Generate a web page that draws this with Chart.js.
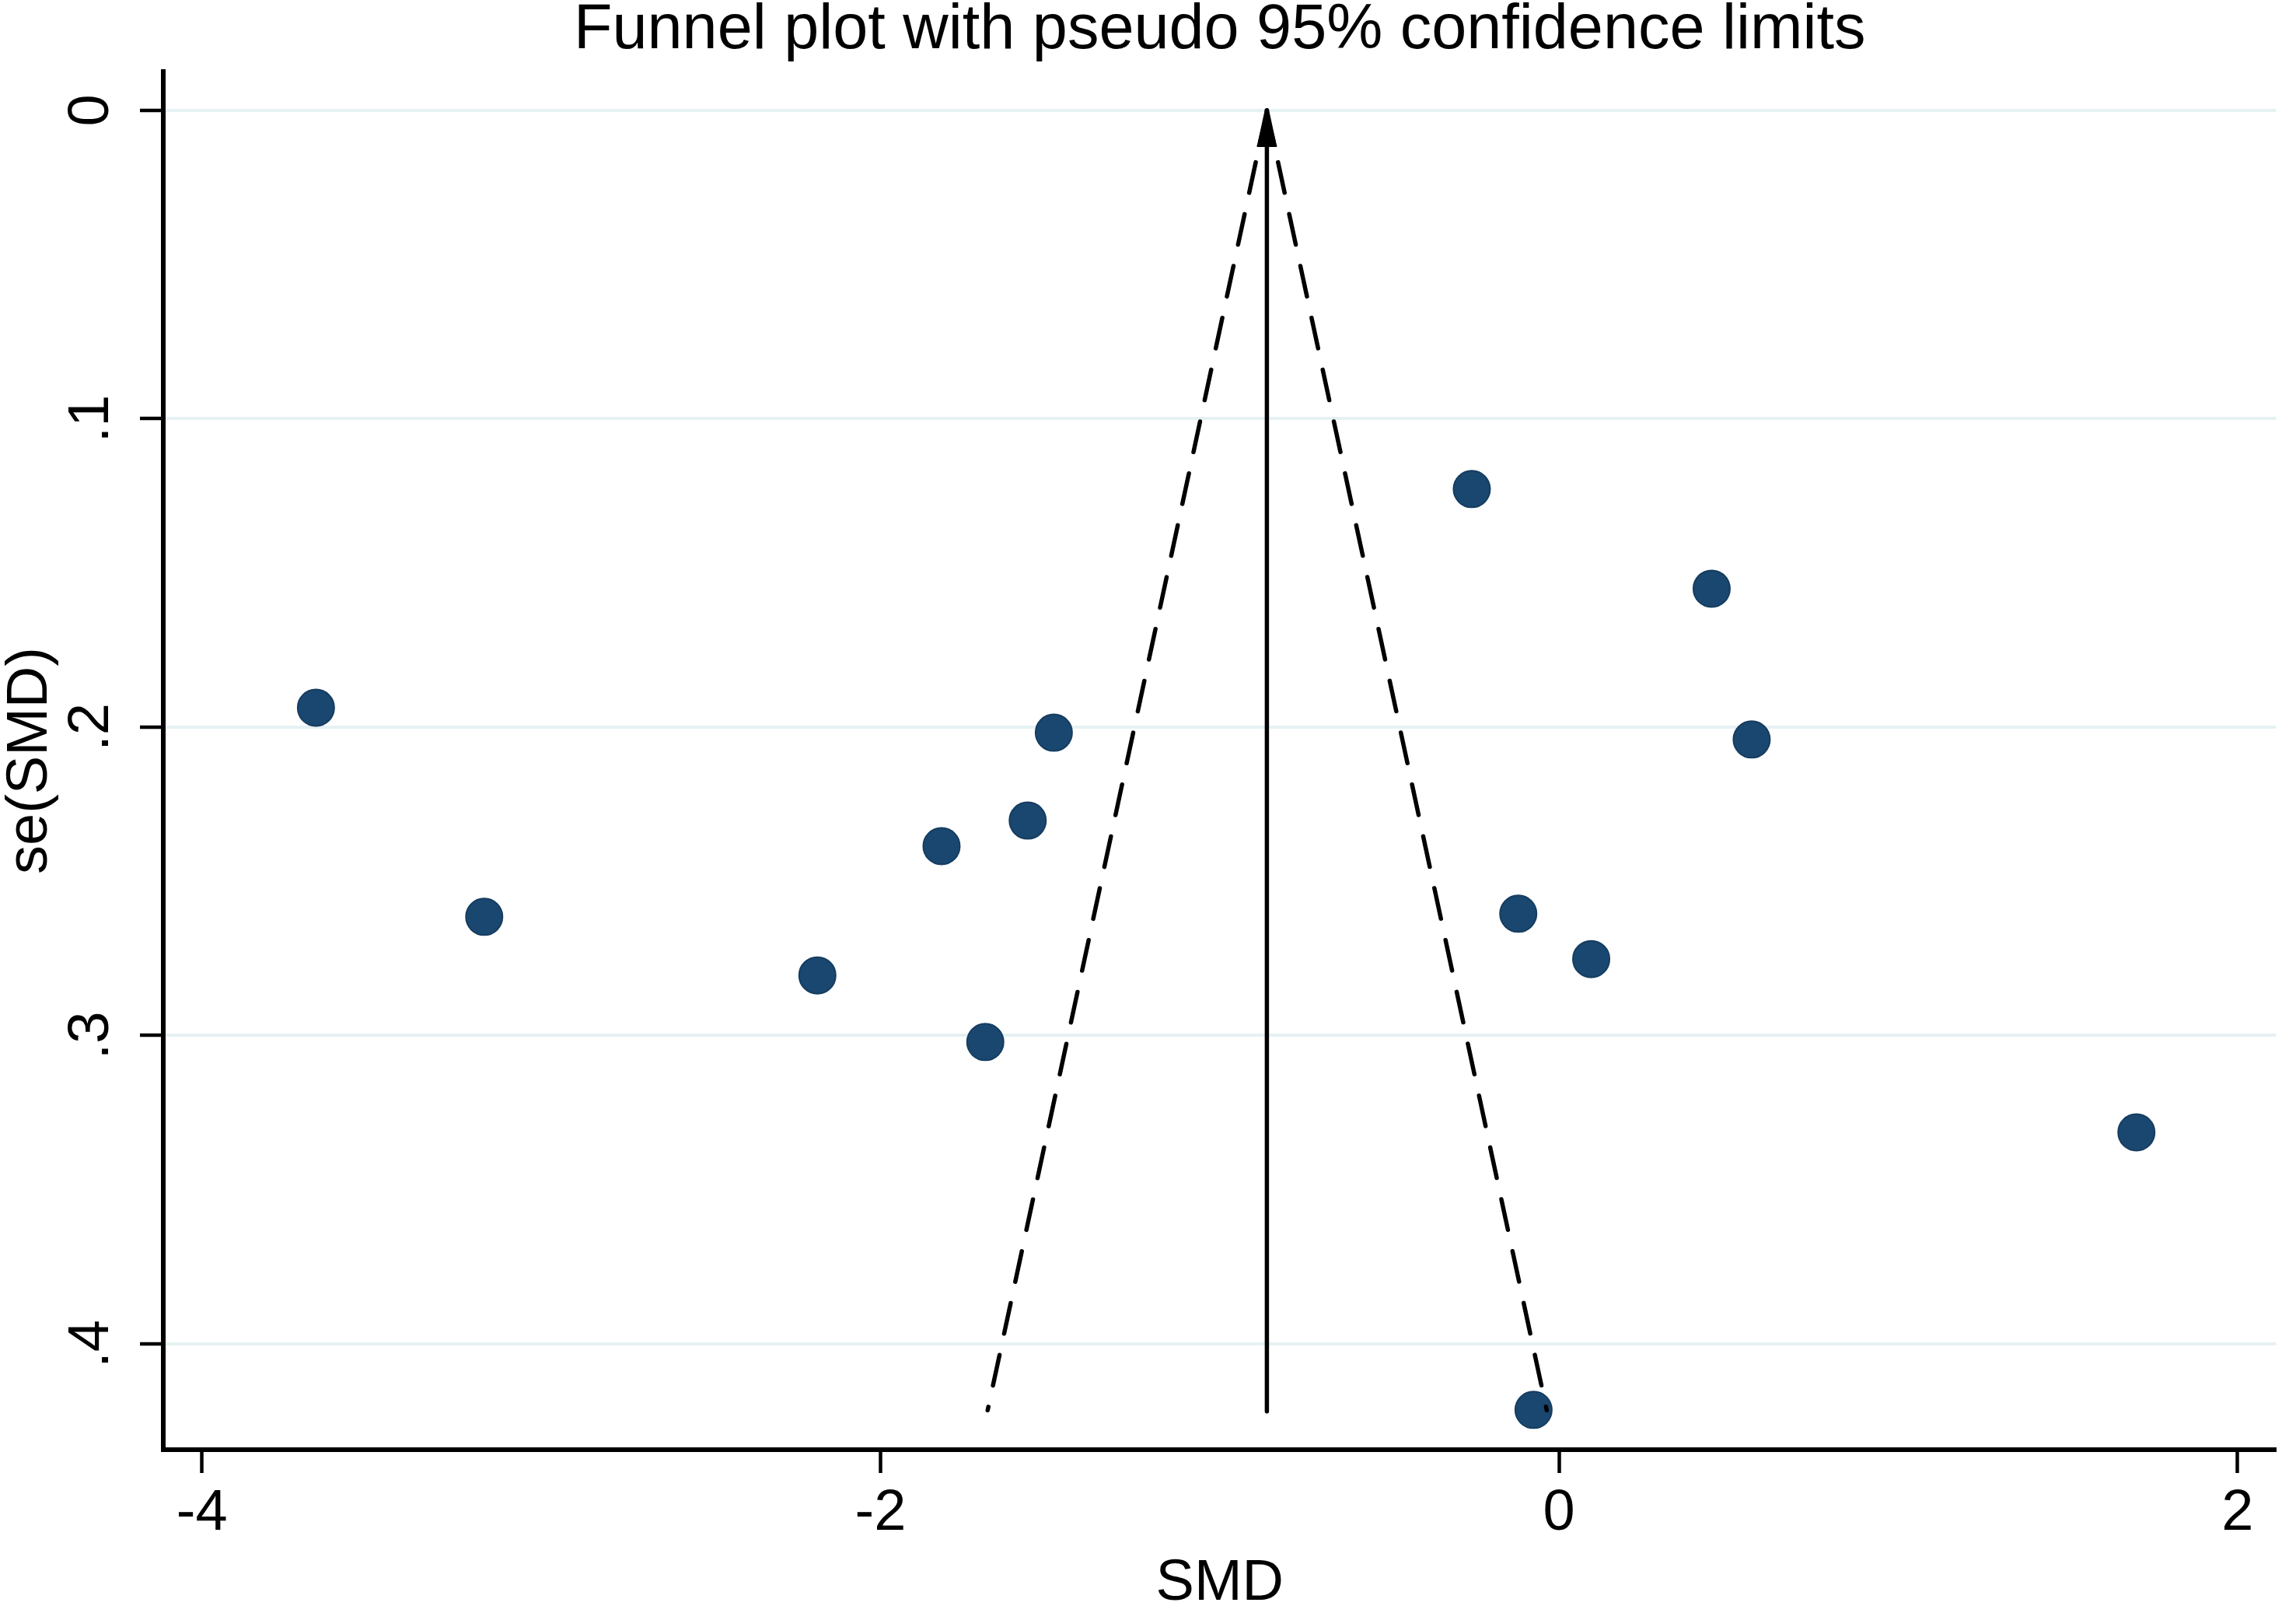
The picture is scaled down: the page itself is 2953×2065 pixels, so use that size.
<!DOCTYPE html>
<html>
<head>
<meta charset="utf-8">
<script src="https://cdn.jsdelivr.net/npm/chart.js@4.4.1/dist/chart.umd.min.js"></script>
<style>
  html, body { margin: 0; padding: 0; background: #ffffff; overflow: hidden; }
  canvas { display: block; }
</style>
</head>
<body>
<canvas id="c" width="2953" height="2065" style="width:2953px;height:2065px"></canvas>
<script>
// ---- data ----
const smd   = [-3.664, -3.168, -2.186, -1.820, -1.691, -1.566, -1.489, -0.257, -0.120, -0.075, 0.095, 0.450, 0.568, 1.702];
const seSmd = [0.1937, 0.2615, 0.2805, 0.2386, 0.3021, 0.2303, 0.2018, 0.1228, 0.2605, 0.4214, 0.2752, 0.1551, 0.2040, 0.3314];

const pooledX      = [-0.861, -0.861];
const pooledSe     = [0, 0.4219];
const funnelSe     = [0, 0.4215];
const funnelLeftX  = [-0.861, -1.684];
const funnelRightX = [-0.861, -0.036];

const xTicks      = [-4, -2, 0, 2];
const xTickLabels = ['-4', '-2', '0', '2'];
const yTicks      = [0, 0.1, 0.2, 0.3, 0.4];
const yTickLabels = ['0', '.1', '.2', '.3', '.4'];

const xRange = [-4.114, 2.114];
const yRange = [-0.0126, 0.4343];

const titleText = 'Funnel plot with pseudo 95% confidence limits';
const xTitle = 'SMD';
const yTitle = 'se(SMD)';

// ---- build ----
const FONT = '"Liberation Sans", Arial, Helvetica, sans-serif';
const pts = (xs, ys) => xs.map((x, i) => ({ x: x, y: ys[i] }));

// centre the title over the plot region (as in the reference)
const titleOverPlot = {
  id: 'titleOverPlot',
  afterLayout(chart) {
    const tb = chart.titleBlock;
    if (tb) { tb.left = chart.chartArea.left; tb.right = chart.chartArea.right; tb.width = tb.right - tb.left; }
  }
};

const arrowPlugin = {
  id: 'arrowHead',
  afterDatasetsDraw(chart) {
    const meta = chart.getDatasetMeta(0);
    if (!meta || !meta.data.length) return;
    let apex = meta.data[0];
    meta.data.forEach(p => { if (p.y < apex.y) apex = p; });
    const ctx = chart.ctx;
    ctx.save();
    ctx.fillStyle = '#000';
    ctx.strokeStyle = '#000';
    ctx.lineWidth = 2;
    ctx.lineJoin = 'round';
    ctx.beginPath();
    ctx.moveTo(apex.x, apex.y - 1);
    ctx.lineTo(apex.x - 12, apex.y + 46);
    ctx.lineTo(apex.x + 12, apex.y + 46);
    ctx.closePath();
    ctx.fill();
    ctx.stroke();
    ctx.restore();
  }
};

new Chart(document.getElementById('c'), {
  type: 'scatter',
  data: {
    datasets: [
      {
        label: 'pooled',
        data: pts(pooledX, pooledSe),
        showLine: true,
        borderColor: '#000',
        borderWidth: 5.5,
        borderCapStyle: 'round',
        pointRadius: 0,
        fill: false
      },
      {
        label: 'lower limit',
        data: pts(funnelLeftX, funnelSe),
        showLine: true,
        borderColor: '#000',
        borderWidth: 5.5,
        borderDash: [40.1, 28.1],
        borderCapStyle: 'round',
        pointRadius: 0,
        fill: false
      },
      {
        label: 'upper limit',
        data: pts(funnelRightX, funnelSe),
        showLine: true,
        borderColor: '#000',
        borderWidth: 5.5,
        borderDash: [40.1, 28.1],
        borderCapStyle: 'round',
        pointRadius: 0,
        fill: false
      },
      {
        label: 'studies',
        data: pts(smd, seSmd),
        showLine: false,
        backgroundColor: '#1a476f',
        borderColor: '#163d60',
        borderWidth: 2,
        pointRadius: 23.5,
        pointHoverRadius: 23.5
      }
    ]
  },
  options: {
    responsive: false,
    maintainAspectRatio: false,
    devicePixelRatio: 1,
    animation: false,
    events: [],
    layout: { padding: { left: 0, right: 3, top: 0, bottom: 0 } },
    plugins: {
      legend: { display: false },
      tooltip: { enabled: false },
      title: {
        display: true,
        text: titleText,
        color: '#000',
        font: { family: FONT, size: 81, weight: 'normal', lineHeight: 0.85 },
        padding: { top: 5, bottom: 18.15 }
      }
    },
    scales: {
      x: {
        type: 'linear',
        position: 'bottom',
        min: xRange[0],
        max: xRange[1],
        afterBuildTicks: s => { s.ticks = xTicks.map(v => ({ value: v })); },
        afterFit: s => { s.height = 201; s.paddingLeft = 0; s.paddingRight = 0; },
        ticks: {
          color: '#000',
          font: { family: FONT, size: 74, lineHeight: 1.2 },
          padding: 8,
          minRotation: 0,
          maxRotation: 0,
          autoSkip: false,
          callback: v => { const i = xTicks.indexOf(v); return i >= 0 ? xTickLabels[i] : ''; }
        },
        grid: {
          display: true,
          drawOnChartArea: false,
          drawTicks: true,
          tickLength: 30,
          tickColor: '#000',
          tickWidth: 4.5
        },
        border: { display: true, color: '#000', width: 6 },
        title: {
          display: true,
          text: xTitle,
          color: '#000',
          font: { family: FONT, size: 74, lineHeight: 0.78 },
          padding: 0
        }
      },
      y: {
        type: 'linear',
        position: 'left',
        reverse: true,
        min: yRange[0],
        max: yRange[1],
        afterBuildTicks: s => { s.ticks = yTicks.map(v => ({ value: v })); },
        afterFit: s => { s.width = 210; },
        ticks: {
          color: '#000',
          font: { family: FONT, size: 74, lineHeight: 1.2 },
          padding: 30.7,
          minRotation: 90,
          maxRotation: 90,
          crossAlign: 'center',
          autoSkip: false,
          callback: v => { const i = yTicks.findIndex(t => Math.abs(t - v) < 1e-9); return i >= 0 ? yTickLabels[i] : ''; }
        },
        grid: {
          display: true,
          drawOnChartArea: true,
          drawTicks: true,
          color: '#e6f1f4',
          lineWidth: 4,
          tickLength: 30,
          tickColor: '#000',
          tickWidth: 4.5
        },
        border: { display: true, color: '#000', width: 6 },
        title: {
          display: true,
          text: yTitle,
          color: '#000',
          font: { family: FONT, size: 74, lineHeight: 1.0 },
          padding: { top: 3, bottom: 0 }
        }
      }
    }
  },
  plugins: [titleOverPlot, arrowPlugin]
});
</script>
</body>
</html>
